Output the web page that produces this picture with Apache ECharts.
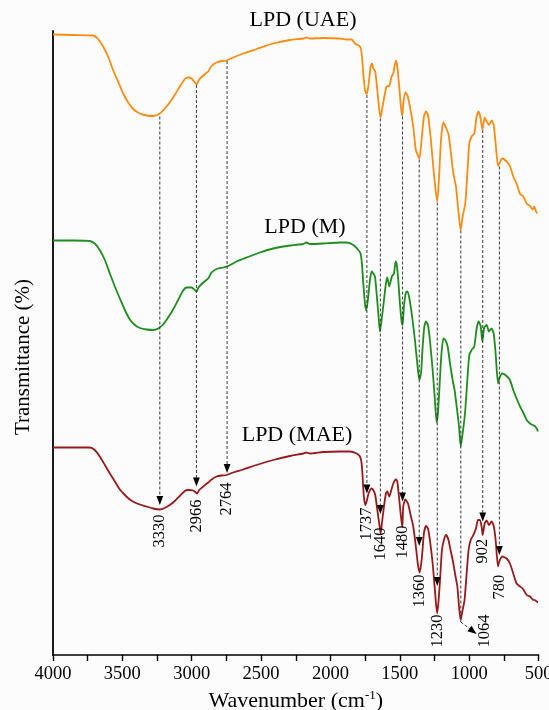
<!DOCTYPE html>
<html><head><meta charset="utf-8">
<script src="https://cdn.jsdelivr.net/npm/echarts@6/dist/echarts.min.js"></script>
<style>html,body{margin:0;padding:0;background:#fcfcfc}#c{width:549px;height:710px}</style>
</head><body><div id="c"></div>
<script>
// ---- data (wavenumber cm-1, offset transmittance a.u.) ----
const seriesNames = ['LPD (UAE)', 'LPD (M)', 'LPD (MAE)'];
const xTickLabels = [4000, 3500, 3000, 2500, 2000, 1500, 1000, 500];

const uaeWn = [4000,3855,3711,3675,3639,3603,3567,3531,3494,3458,3422,3374,3326,3278,3230,3181,3134,3086,3049,3026,3001,2977,2965,2946,2917,2881,2857,2821,2785,2749,2701,2629,2532,2413,2292,2196,2172,2148,2052,1932,1884,1847,1823,1787,1775,1763,1751,1739,1727,1710,1701,1691,1677,1662,1648,1638,1624,1607,1595,1576,1559,1547,1528,1518,1504,1492,1482,1475,1460,1446,1427,1403,1384,1359,1343,1326,1311,1297,1278,1259,1242,1230,1218,1203,1186,1167,1148,1131,1114,1095,1081,1061,1047,1028,1013,999,982,963,946,932,917,905,888,874,857,838,823,809,792,783,761,730,706,682,658,633,609,585,561,542,530,518,508];
const uaeT = [124.1,124.0,123.9,123.2,121.7,119.7,117.0,114.7,112.3,110.5,109.2,108.3,107.9,107.8,108.3,109.7,111.5,113.7,115.2,115.5,115.3,114.5,114.1,115.1,115.9,116.7,117.8,118.5,118.8,118.9,119.5,120.3,121.2,122.3,123.0,123.3,123.5,123.3,123.4,123.3,123.1,123.1,122.3,121.7,120.3,116.3,113.0,112.2,113.7,117.7,118.3,117.3,116.7,113.0,109.0,107.5,109.7,112.3,113.7,113.8,115.7,116.3,118.9,117.7,113.7,109.7,107.8,110.3,112.5,112.0,109.7,105.7,101.0,99.3,103.0,107.7,108.7,108.0,103.7,97.7,93.0,90.7,95.0,103.0,106.5,105.5,104.0,100.3,96.3,93.7,89.7,85.0,87.7,90.3,96.3,102.3,103.7,104.3,107.7,108.7,107.3,105.1,107.5,106.7,106.0,106.9,106.0,102.3,97.8,98.3,99.3,98.7,97.8,95.7,94.3,92.2,91.7,90.3,89.8,89.1,89.7,88.7,88.3];

const mWn = [4000,3855,3735,3699,3663,3626,3590,3554,3518,3482,3446,3410,3374,3326,3278,3242,3206,3170,3134,3098,3062,3038,3001,2977,2965,2951,2917,2881,2857,2821,2773,2737,2677,2605,2509,2412,2292,2196,2172,2148,2052,1932,1884,1835,1799,1783,1773,1763,1751,1742,1730,1715,1703,1691,1679,1667,1653,1643,1631,1614,1600,1590,1576,1566,1557,1542,1530,1523,1511,1499,1487,1480,1470,1456,1444,1427,1408,1391,1374,1359,1347,1335,1323,1311,1297,1283,1263,1247,1234,1225,1215,1201,1186,1172,1155,1138,1119,1105,1090,1073,1061,1047,1030,1013,999,982,963,946,932,917,905,891,874,857,838,823,809,792,783,761,730,706,682,658,633,614,585,561,542,528,513,504];
const mT = [82.9,82.9,82.8,82.3,81.0,79.0,76.3,73.7,71.3,69.0,67.1,66.0,65.4,65.1,65.0,65.3,66.1,67.5,69.1,71.0,72.9,73.5,73.5,73.0,72.7,73.5,74.5,75.3,76.5,77.2,77.5,77.8,78.7,79.5,80.5,81.3,81.9,82.2,82.5,82.2,82.3,82.5,82.5,82.0,81.0,80.3,78.3,74.3,70.3,68.9,71.0,75.0,76.7,76.3,75.7,72.3,67.7,64.7,67.0,71.0,74.3,75.5,73.7,74.7,75.7,76.3,78.7,78.3,75.0,70.3,66.7,66.0,69.7,72.5,72.7,70.7,67.0,63.0,58.3,55.0,56.3,61.7,65.7,66.7,66.0,63.0,57.0,51.0,46.5,48.3,53.0,59.7,63.3,63.0,61.7,58.3,55.0,53.0,49.7,45.7,41.7,44.3,48.3,55.0,60.0,61.0,61.7,65.3,66.7,65.8,62.7,65.5,66.0,64.7,65.3,64.3,60.3,54.3,55.3,56.3,55.8,55.0,53.0,51.3,49.7,48.7,47.0,46.3,46.0,45.8,45.3,44.7];

const maeWn = [4000,3855,3735,3699,3663,3626,3590,3554,3518,3482,3446,3410,3374,3326,3278,3230,3194,3158,3122,3086,3050,3025,2989,2970,2961,2946,2917,2881,2857,2821,2785,2749,2701,2629,2533,2412,2292,2196,2172,2148,2052,1932,1860,1811,1787,1775,1768,1759,1749,1739,1725,1703,1691,1677,1662,1648,1638,1629,1614,1600,1590,1576,1561,1547,1528,1518,1506,1494,1482,1475,1460,1441,1422,1403,1384,1369,1355,1340,1326,1311,1297,1283,1263,1249,1239,1230,1220,1210,1196,1182,1167,1150,1134,1114,1100,1085,1073,1061,1047,1033,1018,1004,989,970,951,936,922,908,903,888,874,857,838,823,809,792,783,761,730,706,682,658,633,614,585,561,542,528,513,504];
const maeT = [41.5,41.5,41.5,41.0,39.7,38.0,36.3,34.7,33.1,32.0,31.1,30.5,30.1,29.7,29.3,29.1,29.4,30.0,30.8,31.8,32.8,33.0,32.9,32.5,32.3,33.0,33.7,34.5,35.1,35.7,35.9,36.0,36.5,37.1,38.0,39.0,39.8,40.3,40.5,40.3,40.6,40.7,40.7,40.3,39.7,38.3,35.7,31.7,30.0,30.7,32.3,33.3,33.0,32.0,29.0,26.3,24.3,26.3,29.7,32.3,32.7,31.7,33.0,34.3,35.1,34.7,31.7,28.3,25.5,29.7,31.1,30.3,28.0,25.7,21.7,18.0,16.5,19.7,24.3,25.8,25.3,23.0,18.3,13.7,10.3,8.3,11.0,15.0,21.0,23.0,24.0,23.1,21.0,18.3,16.0,13.7,9.7,7.0,9.0,11.0,16.3,21.0,23.0,24.0,25.3,27.0,27.0,25.3,24.0,26.3,26.9,26.0,26.7,25.8,23.0,17.7,18.7,19.7,19.3,18.3,16.3,14.3,13.7,13.3,12.0,11.7,11.1,11.0,10.7,10.5];

// band annotations
const peakLabels  = ['3330','2966','2764','1737','1640','1480','1360','1230','1064','902','780'];
const peakWn      = [3230, 2966, 2745, 1737, 1640, 1480, 1360, 1230, 1060, 902, 782];
const peakTopT    = [107.7, 114.0, 118.8, 112.0, 107.3, 107.7, 99.1, 90.5, 84.9, 105.0, 97.7];
const peakTipT    = [30.0, 33.7, 36.4, 32.3, 28.2, 30.7, 21.8, 13.8, 6.6, 26.7, 20.0];
const peakLabelT  = [24.8, 27.8, 31.2, 26.2, 22.2, 22.6, 12.8, 4.8, 4.8, 20.8, 13.6];
const peakLabelWn = [3230, 2966, 2745, 1737, 1640, 1480, 1360, 1230, 886, 902, 782];
const calloutWn   = [null, null, null, null, null, null, null, null, 946, null, null];
const calloutT    = [null, null, null, null, null, null, null, null, 4.2, null, null];

// ---- chart ----
const FONT = '"Liberation Serif", "Times New Roman", serif';
const colors = ['#FA8C14', '#1E8C1E', '#961A1C'];
const zip = (a, b) => a.map((x, i) => [x, b[i]]);
const annData = peakWn.map((w, i) => [w, peakTopT[i], peakTipT[i], peakLabelT[i], peakLabelWn[i]]);

const chart = echarts.init(document.getElementById('c'));
const lineSeries = [zip(uaeWn, uaeT), zip(mWn, mT), zip(maeWn, maeT)].map((d, i) => ({
  name: seriesNames[i], type: 'line', data: d, showSymbol: false, smooth: 0.2,
  lineStyle: { color: colors[i], width: 1.8 }, itemStyle: { color: colors[i] }, z: 3
}));

const annSeries = {
  type: 'custom', coordinateSystem: 'cartesian2d', data: annData, silent: true, clip: false, z: 5,
  renderItem: (params, api) => {
    const i = params.dataIndex;
    const w = api.value(0);
    const top = api.coord([w, api.value(1)]);
    const tip = api.coord([w, api.value(2)]);
    const lab = api.coord([api.value(4), api.value(3)]);
    const dash = { stroke: '#3a3a3a', lineWidth: 1, lineDash: [3, 2] };
    const ah = 9, aw = 3.4;
    const ch = [];
    if (calloutWn[i] == null) {
      ch.push({ type: 'line', shape: { x1: top[0], y1: top[1], x2: tip[0], y2: tip[1] - ah + 1 }, style: dash });
      ch.push({ type: 'polygon', shape: { points: [[tip[0] - aw, tip[1] - ah], [tip[0] + aw, tip[1] - ah], [tip[0], tip[1]]] }, style: { fill: '#000' } });
    } else {
      const end = api.coord([calloutWn[i], calloutT[i]]);
      ch.push({ type: 'line', shape: { x1: top[0], y1: top[1], x2: tip[0], y2: tip[1] }, style: dash });
      const dx = end[0] - tip[0], dy = end[1] - tip[1], L = Math.hypot(dx, dy);
      const ux = dx / L, uy = dy / L, bx = end[0] - ux * ah, by = end[1] - uy * ah;
      ch.push({ type: 'line', shape: { x1: tip[0], y1: tip[1], x2: bx, y2: by }, style: dash });
      ch.push({ type: 'polygon', shape: { points: [[bx - uy * aw, by + ux * aw], [bx + uy * aw, by - ux * aw], [end[0], end[1]]] }, style: { fill: '#000' } });
    }
    ch.push({ type: 'text', x: lab[0], y: lab[1], rotation: Math.PI / 2,
      style: { text: peakLabels[i], fill: '#000', font: '16.5px ' + FONT, align: 'center', verticalAlign: 'middle' } });
    return { type: 'group', children: ch };
  }
};

chart.setOption({
  backgroundColor: '#fcfcfc',
  animation: false,
  grid: { left: 53, right: 10.5, top: 31, bottom: 55, outerBoundsMode: 'none', containLabel: false },
  xAxis: {
    type: 'value', min: 500, max: 4000, interval: 250, inverse: true,
    axisLine: { show: true, lineStyle: { color: '#000', width: 1.6 } },
    axisTick: { show: true, length: 6, lineStyle: { color: '#000', width: 1.4 } },
    splitLine: { show: false },
    axisLabel: { color: '#000', fontFamily: FONT, fontSize: 18.5, margin: 10, showMinLabel: true, showMaxLabel: true,
      formatter: v => (xTickLabels.indexOf(v) >= 0 ? String(v) : '') },
    name: '{a|Wavenumber (cm}{s|-1}{a|)}', nameLocation: 'middle', nameGap: 33,
    nameTextStyle: { rich: {
      a: { fontFamily: FONT, fontSize: 22, color: '#000', lineHeight: 24 },
      s: { fontFamily: FONT, fontSize: 13, color: '#000', verticalAlign: 'top', lineHeight: 14 }
    } }
  },
  yAxis: {
    type: 'value', min: 0, max: 124.8,
    axisLine: { show: true, lineStyle: { color: '#000', width: 1.8 } },
    axisTick: { show: false }, axisLabel: { show: false }, splitLine: { show: false },
    name: 'Transmittance (%)', nameLocation: 'middle', nameRotate: 90, nameGap: 19,
    nameTextStyle: { fontFamily: FONT, fontSize: 21, color: '#000', padding: [0, 28, 0, 0] }
  },
  graphic: [
    { type: 'text', x: 303, y: 20, style: { text: seriesNames[0], font: '22px ' + FONT, fill: '#000', align: 'center', verticalAlign: 'middle' } },
    { type: 'text', x: 305, y: 227, style: { text: seriesNames[1], font: '22px ' + FONT, fill: '#000', align: 'center', verticalAlign: 'middle' } },
    { type: 'text', x: 297, y: 435, style: { text: seriesNames[2], font: '22px ' + FONT, fill: '#000', align: 'center', verticalAlign: 'middle' } }
  ],
  series: lineSeries.concat([annSeries])
});
</script></body></html>
